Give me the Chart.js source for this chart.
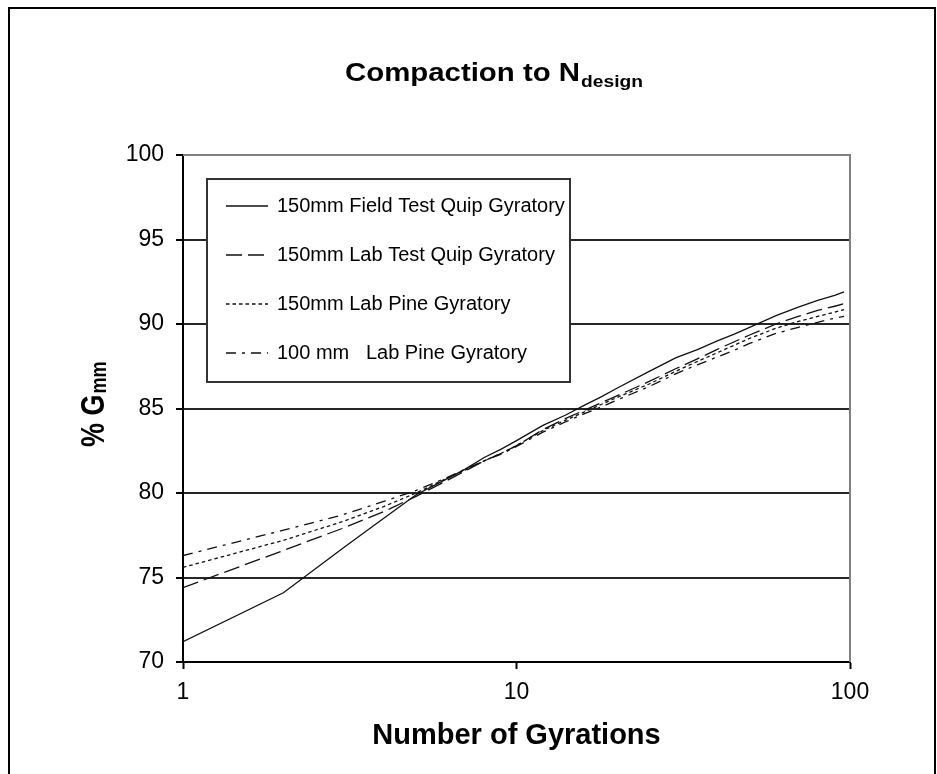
<!DOCTYPE html>
<html>
<head>
<meta charset="utf-8">
<title>Compaction to Ndesign</title>
<script src="https://cdn.jsdelivr.net/npm/chart.js@4.4.1/dist/chart.umd.min.js"></script>
<style>
  html, body { margin: 0; padding: 0; background: #fff; }
  #wrap { width: 937px; height: 774px; position: relative; }
</style>
</head>
<body>
<div id="wrap"><canvas id="chart" width="937" height="774"></canvas></div>
<script>
// Number of gyrations at which %Gmm was recorded
const gyrations = [1, 2, 3, 4, 5, 6, 7, 8, 9, 10, 12, 14, 16, 18, 20, 25, 30, 35, 40, 45, 50, 60, 70, 80, 90, 96];

// %Gmm for each compactor
const fieldTestQuip150 = [71.2, 74.1, 76.7, 78.5, 79.9, 80.7, 81.4, 82.1, 82.6, 83.1, 84.0, 84.6, 85.2, 85.7, 86.2, 87.2, 88.0, 88.5, 89.0, 89.4, 89.8, 90.5, 91.0, 91.4, 91.7, 91.9];
const labTestQuip150   = [74.4, 76.6, 77.9, 78.9, 79.8, 80.6, 81.3, 81.9, 82.35, 82.8, 83.75, 84.4, 84.9, 85.35, 85.75, 86.6, 87.35, 87.95, 88.5, 88.95, 89.35, 90.0, 90.45, 90.8, 91.05, 91.2];
const labPine150       = [75.6, 77.2, 78.3, 79.2, 80.0, 80.75, 81.35, 81.9, 82.35, 82.8, 83.7, 84.3, 84.8, 85.25, 85.65, 86.45, 87.2, 87.8, 88.3, 88.75, 89.15, 89.75, 90.15, 90.45, 90.7, 90.85];
const labPine100       = [76.3, 77.8, 78.7, 79.5, 80.15, 80.8, 81.4, 81.9, 82.3, 82.75, 83.6, 84.2, 84.7, 85.1, 85.5, 86.3, 87.05, 87.6, 88.05, 88.45, 88.85, 89.45, 89.8, 90.1, 90.35, 90.45];

const seriesLabels = [
  '150mm Field Test Quip Gyratory',
  '150mm Lab Test Quip Gyratory',
  '150mm Lab Pine Gyratory',
  '100 mm   Lab Pine Gyratory'
];

const xTicks = [1, 10, 100];
const yTicks = [70, 75, 80, 85, 90, 95, 100];

const FONT = '"Liberation Sans", Arial, Helvetica, sans-serif';

function toPoints(values) {
  return gyrations.map((g, i) => ({ x: g, y: values[i] }));
}

const lineDashes = [[], [16, 6], [3.5, 3], [10, 6, 3, 6]];
const seriesValues = [fieldTestQuip150, labTestQuip150, labPine150, labPine100];

const datasets = seriesValues.map((vals, i) => ({
  label: seriesLabels[i],
  data: toPoints(vals),
  borderColor: '#111',
  borderWidth: 1.3,
  borderDash: lineDashes[i],
  pointRadius: 0,
  fill: false,
  tension: 0
}));

// White page with an outer frame
const framePlugin = {
  id: 'frame',
  beforeDraw(chart) {
    const ctx = chart.ctx;
    ctx.save();
    ctx.fillStyle = '#fff';
    ctx.fillRect(0, 0, chart.width, chart.height);
    ctx.strokeStyle = '#000';
    ctx.lineWidth = 2;
    ctx.strokeRect(9, 8, 926, 800);
    ctx.restore();
  },
  beforeDatasetsDraw(chart) {
    // grey plot-area border on the top and right
    const { left, right, top, bottom } = chart.chartArea;
    const ctx = chart.ctx;
    ctx.save();
    ctx.strokeStyle = '#808080';
    ctx.lineWidth = 2;
    ctx.beginPath();
    ctx.moveTo(left, top);
    ctx.lineTo(right, top);
    ctx.lineTo(right, bottom);
    ctx.stroke();
    ctx.restore();
  }
};

function drawStretched(ctx, text, x, y, sx, sy) {
  ctx.save();
  ctx.translate(x, y);
  ctx.scale(sx, sy);
  ctx.fillText(text, 0, 0);
  const w = ctx.measureText(text).width * sx;
  ctx.restore();
  return w;
}

// Chart title and y-axis title (both carry a subscript)
const titlesPlugin = {
  id: 'titles',
  afterDraw(chart) {
    const ctx = chart.ctx;
    ctx.save();
    ctx.fillStyle = '#000';
    ctx.textBaseline = 'alphabetic';
    ctx.textAlign = 'left';

    // "Compaction to N" + subscript "design"
    ctx.font = 'bold 26px ' + FONT;
    let x = 345;
    x += drawStretched(ctx, 'Compaction to N', x, 81, 1.13, 1);
    ctx.font = 'bold 17px ' + FONT;
    drawStretched(ctx, 'design', x + 1, 87, 1.13, 1);

    // "% G" + subscript "mm", reading upward
    ctx.translate(104, 447);
    ctx.rotate(-Math.PI / 2);
    ctx.font = 'bold 27px ' + FONT;
    const w = drawStretched(ctx, '% G', 0, 0, 1, 1.25);
    ctx.font = 'bold 18px ' + FONT;
    drawStretched(ctx, 'mm', w + 1, 2, 1, 1.25);
    ctx.restore();
  }
};

// Boxed legend inside the plot area
const boxLegendPlugin = {
  id: 'boxLegend',
  afterDatasetsDraw(chart) {
    const ctx = chart.ctx;
    const box = { x: 207, y: 179, w: 363, h: 203 };
    const rows = [206, 255, 304, 353];
    ctx.save();
    ctx.fillStyle = '#fff';
    ctx.fillRect(box.x, box.y, box.w, box.h);
    ctx.strokeStyle = '#333';
    ctx.lineWidth = 2;
    ctx.strokeRect(box.x, box.y, box.w, box.h);

    chart.data.datasets.forEach((ds, i) => {
      const y = rows[i];
      ctx.strokeStyle = ds.borderColor;
      ctx.lineWidth = ds.borderWidth;
      ctx.setLineDash(ds.borderDash);
      ctx.beginPath();
      ctx.moveTo(226, y);
      ctx.lineTo(268, y);
      ctx.stroke();
      ctx.setLineDash([]);
      ctx.fillStyle = '#000';
      ctx.font = '20px ' + FONT;
      ctx.textBaseline = 'middle';
      ctx.textAlign = 'left';
      ctx.fillText(ds.label, 277, y);
    });
    ctx.restore();
  }
};

new Chart(document.getElementById('chart'), {
  type: 'line',
  data: { datasets },
  plugins: [framePlugin, titlesPlugin, boxLegendPlugin],
  options: {
    responsive: false,
    animation: false,
    devicePixelRatio: 1,
    layout: { padding: { left: 10, top: 155, right: 87, bottom: 0 } },
    plugins: {
      legend: { display: false },
      title: { display: false },
      tooltip: { enabled: false }
    },
    scales: {
      x: {
        type: 'logarithmic',
        min: 1,
        max: 100,
        afterBuildTicks(scale) {
          scale.ticks = xTicks.map(v => ({ value: v, major: true }));
        },
        afterFit(scale) { scale.height = 112; },
        grid: {
          drawOnChartArea: false,
          drawTicks: true,
          tickLength: 7,
          tickColor: '#000',
          tickWidth: 2
        },
        border: { display: true, color: '#000', width: 2 },
        ticks: {
          autoSkip: false,
          maxRotation: 0,
          padding: 10,
          color: '#000',
          font: { family: FONT, size: 23 },
          callback: v => String(v)
        },
        title: {
          display: true,
          text: 'Number of Gyrations',
          color: '#000',
          font: { family: FONT, size: 29, weight: 'bold' },
          padding: { top: 0, bottom: 21 }
        }
      },
      y: {
        type: 'linear',
        min: 70,
        max: 100,
        afterBuildTicks(scale) {
          scale.ticks = yTicks.map(v => ({ value: v }));
        },
        afterFit(scale) { scale.width = 173; },
        grid: {
          color: ctx => (ctx.tick && ctx.tick.value === 100 ? '#808080' : '#262626'),
          lineWidth: 2,
          drawTicks: true,
          tickLength: 7,
          tickColor: '#000',
          tickWidth: 2
        },
        border: { display: true, color: '#000', width: 2 },
        ticks: {
          padding: 12,
          color: '#000',
          font: { family: FONT, size: 23 },
          callback: v => String(v)
        },
        title: { display: false }
      }
    }
  }
});
</script>
</body>
</html>
